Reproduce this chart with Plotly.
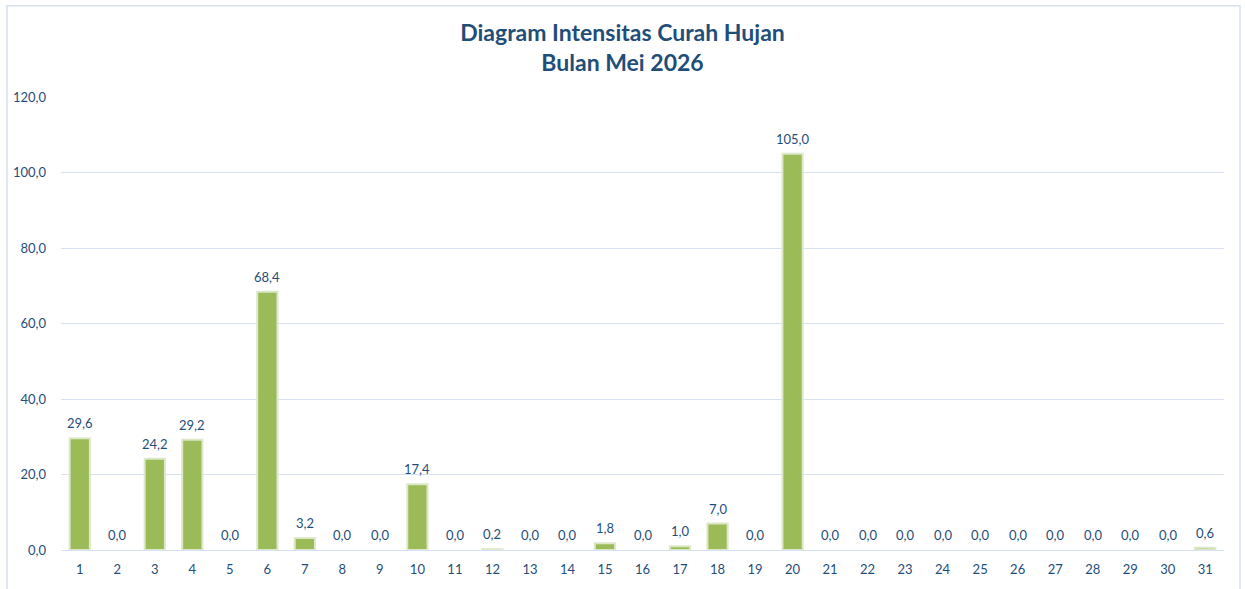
import plotly.graph_objects as go

days = [str(d) for d in range(1, 32)]
rainfall = [29.6, 0.0, 24.2, 29.2, 0.0, 68.4, 3.2, 0.0, 0.0, 17.4, 0.0, 0.2, 0.0, 0.0, 1.8,
            0.0, 1.0, 7.0, 0.0, 105.0, 0.0, 0.0, 0.0, 0.0, 0.0, 0.0, 0.0, 0.0, 0.0, 0.0, 0.6]
y_ticks = [0, 20, 40, 60, 80, 100, 120]

blue = "#1F4E79"
font_fam = "Lato, Open Sans, sans-serif"
fig = go.Figure(go.Bar(
    x=days, y=rainfall,
    marker=dict(color="#9BBB59",
                line=dict(color="#DCE8C8", width=[2 if v > 0 else 0 for v in rainfall])),
    width=0.54,
    hoverinfo="x+y",
))

for i, v in enumerate(rainfall):
    fig.add_annotation(x=i, y=v, text=f"{v:.1f}".replace(".", ","), showarrow=False,
                       yanchor="middle", yshift=15,
                       font=dict(family=font_fam, size=13, color=blue))

fig.update_layout(
    width=1245, height=589,
    margin=dict(l=61, r=21, t=97, b=35),
    plot_bgcolor="white", paper_bgcolor="white",
    separators=",.",
    showlegend=False,
    title=dict(text="<b>Diagram Intensitas Curah Hujan<br>Bulan Mei 2026</b>",
               x=0.5, xanchor="center", y=0.931, yanchor="top",
               font=dict(family=font_fam, size=23, color=blue)),
    font=dict(family=font_fam, size=13, color=blue),
)
fig.update_yaxes(range=[0, 120], tickvals=y_ticks, tickformat=".1f",
                 showgrid=True, gridcolor="#D6E2F2", gridwidth=1,
                 zeroline=False, showline=False, ticks="", ticklen=0,
                 ticklabelstandoff=14,
                 tickfont=dict(size=13, color=blue))
fig.update_xaxes(range=[-0.5, 30.5], showgrid=False, showline=True, linecolor="#D6E2F2", linewidth=1,
                 ticks="", ticklabelstandoff=7, tickfont=dict(size=13, color=blue))

fig.add_shape(type="rect", xref="paper", yref="paper",
              x0=(7 - 61) / 1163, x1=(1240 - 61) / 1163,
              y0=-0.2, y1=(554 - 5) / 457,
              line=dict(color="#D9E1EC", width=1.5), fillcolor="rgba(0,0,0,0)", layer="below")

fig.write_html("out.html", config={"displayModeBar": False},
               post_script="document.body.style.margin='0';document.body.style.overflow='hidden';")
